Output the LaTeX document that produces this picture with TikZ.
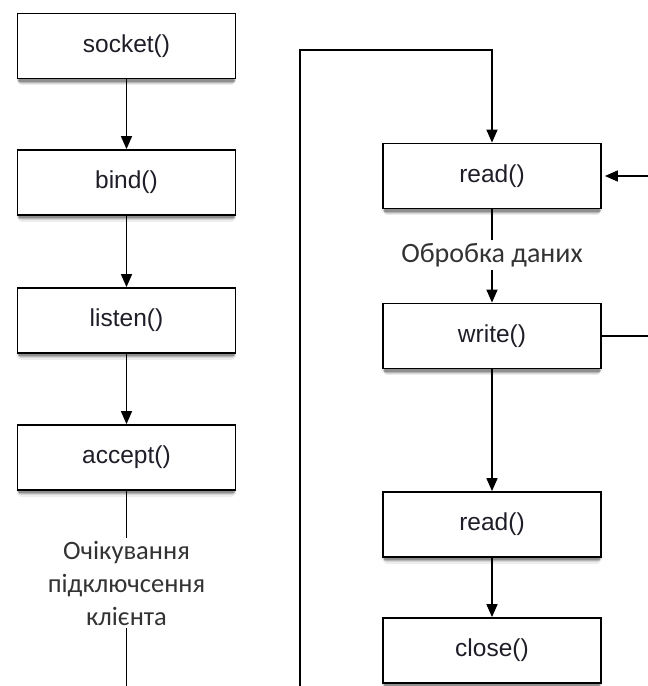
\documentclass[tikz,border=0pt]{standalone}
\usepackage{fontspec}
\setmainfont{Liberation Sans}
\newfontfamily\cyrfont{Carlito}
\usetikzlibrary{arrows.meta}
\definecolor{txtgray}{HTML}{333333}
\definecolor{fngray}{HTML}{1E1E28}
\definecolor{sha}{HTML}{EDEDED}
\definecolor{shb}{HTML}{D6D6D6}
\definecolor{shc}{HTML}{B5B5B5}
\definecolor{shd}{HTML}{8F8F8F}
\tikzset{
  fnbox/.style={draw=black, line width=1.8pt, fill=white, minimum width=218pt, minimum height=65pt, inner sep=0pt,
    font=\fontsize{24.5}{28}\selectfont, text=fngray},
  conn/.style={line width=1.6pt, draw=black},
  arr/.style={conn, -{Triangle[width=11pt,length=13pt]}},
  note/.style={font=\cyrfont\fontsize{26.5}{33}\selectfont, text=txtgray, align=center, inner xsep=0pt, inner ysep=3pt},
  shadowa/.style={draw=sha, line width=12pt, line cap=round},
  shadowb/.style={draw=shb, line width=8pt, line cap=round},
  shadowc/.style={draw=shc, line width=5pt, line cap=round},
  shadowd/.style={draw=shd, line width=2.5pt, line cap=round}
}
\begin{document}
\begin{tikzpicture}[x=1pt,y=-1pt]
\useasboundingbox (0,0) rectangle (648,686);
% shadows as soft stroked bands under each box
\foreach \cx/\cy in {126.5/46, 126.5/182.5, 126.5/320.5, 126.5/457.5, 492/176, 492/336, 492/524.5, 492/650.5}{
  \draw[shadowa] (\cx-104, \cy+33) -- (\cx+104, \cy+33);
  \draw[shadowb] (\cx-105, \cy+33.5) -- (\cx+105, \cy+33.5);
  \draw[shadowc] (\cx-106, \cy+34) -- (\cx+106, \cy+34);
  \draw[shadowd] (\cx-107, \cy+34.5) -- (\cx+107, \cy+34.5);
}
% left column
\node[fnbox] (socket) at (126.5,46) {socket()};
\node[fnbox] (bind) at (126.5,182.5) {bind()};
\node[fnbox] (listen) at (126.5,320.5) {listen()};
\node[fnbox] (accept) at (126.5,457.5) {accept()};
\node[note] (wait) at (126.5,583) {Очікування\\підключсення\\клієнта};
\coordinate (leftbot) at (126.5,690);
% right column
\node[fnbox] (read1) at (492,176) {read()};
\node[note, font=\cyrfont\fontsize{28}{33}\selectfont] (proc) at (492,255) {Обробка даних};
\node[fnbox] (write) at (492,336) {write()};
\node[fnbox] (read2) at (492,524.5) {read()};
\node[fnbox] (close) at (492,650.5) {close()};
\draw[arr] (socket) -- (bind);
\draw[arr] (bind) -- (listen);
\draw[arr] (listen) -- (accept);
\draw[conn] (accept) -- (wait);
\draw[conn] (wait) -- (leftbot);
\coordinate (loopbot) at (300,690);
\coordinate (looptop) at (300,50);
\coordinate (rin) at (650,176);
\coordinate (rout) at (650,336);
\draw[arr] (loopbot) -- (looptop) -| (read1.north);
\draw[arr, shorten >=3pt] (rin) -- (read1.east);
\draw[conn] (write.east) -- (rout);
\draw[conn] (read1) -- (proc);
\draw[arr] (proc) -- (write);
\draw[arr] (write) -- (read2);
\draw[arr] (read2) -- (close);
\end{tikzpicture}
\end{document}
